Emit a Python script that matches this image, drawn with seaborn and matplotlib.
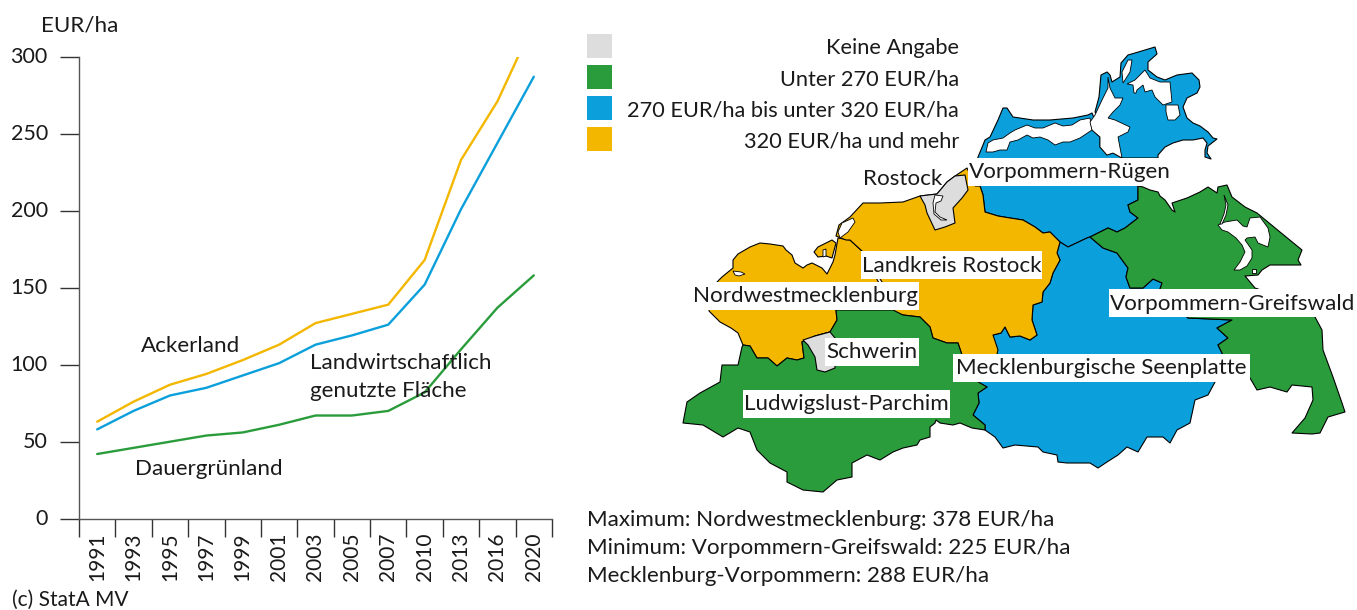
import pandas as pd
import matplotlib
matplotlib.use("Agg")
import matplotlib.pyplot as plt
from matplotlib.patches import Polygon, Rectangle
import seaborn as sns

years = ["1991", "1993", "1995", "1997", "1999", "2001", "2003", "2005", "2007", "2010", "2013", "2016", "2020"]
ackerland = [63, 76, 87, 94, 103, 113, 127, 133, 139, 168, 233, 271, 322]
lf_flaeche = [58, 70, 80, 85, 93, 101, 113, 119, 126, 152, 201, 244, 287]
dauergruen = [42, 46, 50, 54, 56, 61, 67, 67, 70, 82, 110, 137, 158]
y_ticks = [0, 50, 100, 150, 200, 250, 300]

GREY = "#DDDDDD"
GREEN = "#2A9C3B"
BLUE = "#0BA0DB"
ORANGE = "#F3B700"
TEXT = "#1a1a1a"

legend_labels = ["Keine Angabe", "Unter 270 EUR/ha", "270 EUR/ha bis unter 320 EUR/ha", "320 EUR/ha und mehr"]
legend_colors = [GREY, GREEN, BLUE, ORANGE]

# district outlines (image pixels)
nordwest = [(836, 310), (880, 285), (862, 251), (850, 240), (838, 238), (835, 255), (833, 262), (827, 274), (822, 268),
            (812, 263), (807, 265), (803, 268), (795, 263), (792, 255), (786, 250), (783, 246), (770, 244), (760, 243),
            (750, 247), (738, 254), (733, 260), (733, 268), (722, 277), (717, 282), (710, 295), (709, 311), (720, 322),
            (731, 328), (738, 333), (743, 345), (750, 346), (757, 358), (768, 358), (777, 366), (787, 358), (797, 360),
            (804, 358), (803, 350), (802, 342), (815, 336), (830, 332), (837, 320)]
poel = [(814, 252), (818, 247), (832, 240), (836, 243), (832, 258), (826, 256), (818, 257)]
lk_rostock = [(967, 168), (955, 176), (947, 182), (937, 194), (920, 196), (903, 202), (880, 203), (863, 203), (850, 217),
              (839, 225), (836, 236), (846, 240), (850, 240), (862, 251), (882, 282), (890, 312), (903, 315), (920, 317),
              (930, 327), (933, 338), (947, 343), (958, 343), (962, 355), (996, 358), (998, 350), (993, 335), (1001, 333),
              (1005, 327), (1010, 337), (1020, 336), (1030, 340), (1037, 335), (1032, 320), (1033, 305), (1042, 302),
              (1043, 292), (1050, 283), (1053, 273), (1060, 260), (1057, 253), (1060, 242), (1050, 232), (1043, 233),
              (1035, 227), (1023, 220), (1010, 218), (998, 216), (985, 212), (983, 195), (980, 186), (975, 186)]
hro = [(955, 176), (947, 182), (937, 194), (920, 196), (925, 205), (927, 213), (935, 230), (945, 227), (955, 223),
       (953, 208), (962, 198), (968, 190), (965, 175)]
ludwigslust = [(836, 310), (893, 310), (903, 315), (920, 317), (930, 327), (933, 338), (947, 343), (958, 343), (962, 355),
               (975, 380), (987, 387), (978, 393), (979, 403), (973, 415), (985, 425), (985, 430), (972, 428), (960, 423),
               (953, 425), (940, 423), (936, 420), (935, 423), (930, 427), (930, 437), (920, 440), (917, 445), (903, 448),
               (893, 452), (880, 460), (867, 455), (852, 463), (852, 477), (837, 480), (823, 492), (803, 490), (787, 482),
               (787, 472), (770, 463), (757, 450), (750, 432), (738, 428), (723, 437), (703, 425), (683, 423), (687, 402),
               (700, 393), (720, 382), (722, 365), (738, 365), (742, 347), (743, 345), (750, 346), (757, 358), (768, 358),
               (777, 366), (787, 358), (797, 360), (804, 358), (803, 350), (802, 342), (815, 336), (830, 332), (837, 320)]
schwerin = [(803, 340), (815, 336), (830, 332), (835, 338), (835, 368), (825, 372), (817, 370), (815, 357), (808, 345)]
seenplatte = [(1060, 242), (1068, 247), (1087, 238), (1090, 237), (1103, 248), (1117, 253), (1128, 268), (1126, 277),
              (1130, 288), (1143, 288), (1153, 279), (1162, 283), (1160, 289), (1188, 318), (1232, 320), (1217, 328),
              (1228, 338), (1218, 345), (1222, 353), (1225, 365), (1215, 382), (1208, 395), (1195, 400), (1190, 423),
              (1177, 430), (1170, 443), (1163, 437), (1147, 437), (1138, 452), (1127, 447), (1118, 455), (1107, 462),
              (1098, 468), (1090, 463), (1067, 463), (1058, 462), (1057, 455), (1043, 452), (1038, 447), (1015, 445),
              (1003, 448), (995, 437), (985, 430), (985, 425), (973, 415), (979, 403), (978, 393), (987, 387), (977, 382),
              (996, 358), (993, 335), (1001, 333), (1005, 327), (1010, 337), (1020, 336), (1030, 340), (1037, 335),
              (1032, 320), (1033, 305), (1042, 302), (1043, 292), (1050, 283), (1053, 273), (1060, 260), (1057, 253)]
greifswald = [(1090, 237), (1100, 232), (1108, 228), (1117, 232), (1125, 228), (1138, 218), (1130, 212), (1128, 205),
              (1138, 200), (1138, 186), (1143, 187), (1150, 190), (1158, 192), (1160, 196), (1165, 200), (1172, 210),
              (1175, 212), (1172, 203), (1187, 198), (1200, 192), (1208, 187), (1217, 193), (1218, 187), (1227, 185),
              (1232, 197), (1245, 207), (1257, 213), (1280, 232), (1302, 250), (1298, 260), (1301, 265), (1270, 265),
              (1262, 270), (1258, 275), (1245, 276), (1255, 288), (1290, 300), (1315, 317), (1322, 330), (1323, 350),
              (1333, 377), (1342, 403), (1345, 412), (1328, 417), (1320, 433), (1312, 434), (1292, 433), (1305, 418),
              (1313, 400), (1312, 387), (1292, 385), (1287, 392), (1270, 387), (1257, 390), (1250, 378), (1225, 365),
              (1222, 353), (1218, 345), (1228, 338), (1217, 328), (1232, 320), (1188, 318), (1160, 289), (1162, 283),
              (1153, 279), (1143, 288), (1130, 288), (1126, 277), (1128, 268), (1117, 253), (1103, 248)]
vr_mainland = [(980, 186), (977, 165), (978, 157), (983, 145), (985, 140), (990, 137), (998, 120), (1003, 108), (1007, 108),
               (1013, 117), (1033, 120), (1050, 120), (1073, 118), (1088, 115), (1092, 113), (1095, 120), (1092, 130),
               (1100, 137), (1100, 147), (1107, 155), (1113, 153), (1122, 158), (1125, 170), (1138, 186), (1138, 200),
               (1128, 205), (1130, 212), (1138, 218), (1125, 228), (1117, 232), (1108, 228), (1100, 232), (1090, 237),
               (1087, 238), (1068, 247), (1060, 242), (1050, 232), (1043, 233), (1035, 227), (1023, 220), (1010, 218),
               (998, 216), (985, 212), (983, 195)]
ruegen = [(1095, 112), (1099, 97), (1101, 75), (1107, 72), (1110, 75), (1112, 82), (1120, 77), (1121, 63), (1128, 55),
          (1135, 53), (1155, 47), (1157, 54), (1148, 62), (1148, 70), (1157, 77), (1165, 80), (1177, 75), (1192, 73),
          (1199, 80), (1200, 87), (1197, 93), (1187, 98), (1183, 107), (1187, 118), (1193, 123), (1200, 126), (1208, 132),
          (1213, 138), (1217, 139), (1208, 146), (1207, 153), (1211, 159), (1205, 157), (1205, 150), (1207, 143),
          (1203, 138), (1193, 140), (1183, 140), (1173, 143), (1165, 147), (1158, 155), (1158, 158), (1122, 158)]

districts = [(vr_mainland, BLUE), (ruegen, BLUE), (seenplatte, BLUE), (nordwest, ORANGE), (poel, ORANGE),
             (lk_rostock, ORANGE), (hro, GREY), (ludwigslust, GREEN), (schwerin, GREY), (greifswald, GREEN)]

# water inside the districts
boddenkette = [(986, 152), (988, 143), (993, 140), (1003, 138), (1010, 133), (1015, 130), (1027, 125), (1035, 128),
               (1043, 128), (1055, 123), (1063, 126), (1072, 125), (1080, 120), (1090, 118), (1092, 130), (1080, 138),
               (1070, 142), (1063, 142), (1055, 145), (1048, 140), (1040, 137), (1033, 138), (1027, 135), (1018, 140),
               (1010, 142), (1007, 150), (1000, 150), (993, 152)]
ruegen_bodden = [(1108, 77), (1108, 88), (1102, 100), (1095, 115), (1090, 122), (1092, 130), (1100, 137), (1100, 147),
                 (1107, 155), (1113, 153), (1122, 158), (1118, 137), (1128, 132), (1130, 127), (1115, 120), (1108, 118),
                 (1113, 112), (1120, 105), (1123, 98), (1115, 98), (1110, 88)]
jasmund = [(1127, 84), (1135, 80), (1145, 70), (1150, 78), (1160, 82), (1170, 82), (1172, 102), (1163, 105), (1155, 97),
           (1152, 90), (1145, 92), (1143, 85), (1137, 90), (1136, 93), (1134, 93), (1133, 85)]
schmale_heide = [(1166, 105), (1178, 105), (1180, 115), (1175, 120), (1168, 120), (1166, 112)]
wieker = [(1122, 72), (1128, 60), (1132, 60), (1130, 72), (1125, 80), (1123, 83)]
achterwasser = [(1218, 225), (1225, 222), (1237, 220), (1243, 226), (1247, 227), (1250, 218), (1260, 217), (1268, 228),
                (1270, 237), (1268, 247), (1258, 243), (1255, 237), (1247, 238), (1245, 240), (1252, 250), (1252, 258),
                (1247, 266), (1240, 270), (1234, 270), (1240, 262), (1245, 252), (1242, 245), (1236, 238), (1228, 232),
                (1222, 230)]
peene = [(1224, 195), (1228, 205), (1226, 215), (1222, 224), (1220, 224), (1224, 214), (1226, 205)]
usedom_see = [(1252, 269), (1256, 269), (1256, 273), (1252, 273)]
salzhaff = [(838, 232), (842, 223), (853, 218), (855, 222), (848, 232), (840, 238)]
poel_slit = [(823, 250), (826, 249), (826, 256), (823, 257)]
nwm_see = [(733, 271), (741, 272), (745, 274), (739, 276), (735, 275)]
warnow = [(935, 195), (943, 196), (941, 201), (936, 203), (935, 212), (940, 217), (947, 220), (941, 220), (934, 214), (933, 203)]
waters = [boddenkette, ruegen_bodden, jasmund, schmale_heide, wieker, achterwasser, peene, usedom_see, salzhaff,
          poel_slit, nwm_see, warnow]

district_labels = ["Vorpommern-Rügen", "Landkreis Rostock", "Nordwestmecklenburg", "Schwerin", "Ludwigslust-Parchim",
                   "Mecklenburgische Seenplatte", "Vorpommern-Greifswald"]
label_boxes = [(968, 158, 1172, 186), (861, 251, 1042, 279), (692, 282, 919, 310), (825, 338, 919, 366),
               (743, 390, 950, 418), (953, 354, 1250, 382), (1109, 289, 1357, 317)]

summary_lines = ["Maximum: Nordwestmecklenburg: 378 EUR/ha", "Minimum: Vorpommern-Greifswald: 225 EUR/ha",
                 "Mecklenburg-Vorpommern: 288 EUR/ha"]

sns.set_theme(style="white")
plt.rcParams["font.family"] = ["Lato", "DejaVu Sans"]
plt.rcParams["text.color"] = TEXT
FS = 16.1

W, H = 1357, 610
fig = plt.figure(figsize=(W / 100, H / 100), dpi=100, facecolor="white")

# line chart
ax = fig.add_axes([79 / W, 1 - 518.7 / H, (552 - 79) / W, (518.7 - 56.7) / H])
df = pd.DataFrame({
    "year": years * 3,
    "value": ackerland + lf_flaeche + dauergruen,
    "series": ["Ackerland"] * 13 + ["LF"] * 13 + ["Dauergrünland"] * 13,
})
sns.lineplot(data=df, x="year", y="value", hue="series", sort=False, ax=ax, legend=False, linewidth=1.7,
             palette={"Ackerland": ORANGE, "LF": BLUE, "Dauergrünland": GREEN})
ax.set_xlim(-0.5, 12.5)
ax.set_ylim(0, 300)
ax.set_xlabel("")
ax.set_ylabel("")
ax.patch.set_alpha(0)
for s in ["top", "right"]:
    ax.spines[s].set_visible(False)
for s in ["left", "bottom"]:
    ax.spines[s].set_color("#555555")
    ax.spines[s].set_linewidth(1.0)
ax.set_yticks(y_ticks)
ax.set_xticks(range(len(years)))
ax.set_xticklabels(years, rotation=90, fontsize=15, color=TEXT)
ax.set_xticks([i - 0.5 for i in range(len(years) + 1)], minor=True)
ax.tick_params(axis="x", which="major", length=0, pad=10, bottom=True)
ax.tick_params(axis="x", which="minor", length=13, width=1.0, color="#333333", bottom=True)
ax.tick_params(axis="y", length=13.5, width=1.0, color="#333333", left=True, labelsize=15.5, labelcolor=TEXT, pad=9)
for tick in ax.get_yticklabels():
    tick.set_va("center")

# map and free text on a full figure layer in image pixels
mp = fig.add_axes([0, 0, 1, 1])
mp.set_xlim(0, W)
mp.set_ylim(H, 0)
mp.axis("off")
mp.patch.set_alpha(0)

for outline, colour in districts:
    mp.add_patch(Polygon(outline, closed=True, facecolor=colour, edgecolor="black", linewidth=0.8, joinstyle="round"))
for outline in waters:
    mp.add_patch(Polygon(outline, closed=True, facecolor="white", edgecolor="black", linewidth=0.6))

for name, (x0, y0, x1, y1) in zip(district_labels, label_boxes):
    mp.add_patch(Rectangle((x0, y0), x1 - x0, y1 - y0, facecolor="white", edgecolor="none"))
    mp.text((x0 + x1) / 2, (y0 + y1) / 2 + 0.5, name, ha="center", va="center", fontsize=FS)

mp.text(863, 179, "Rostock", ha="left", va="center", fontsize=FS)

for i, (label, colour) in enumerate(zip(legend_labels, legend_colors)):
    top = 34 + i * 31
    mp.add_patch(Rectangle((587, top), 25, 24, facecolor=colour, edgecolor="none"))
    mp.text(959, top + 14.5, label, ha="right", va="center", fontsize=15.7)

for i, line in enumerate(summary_lines):
    mp.text(587, 520.5 + i * 27.5, line, ha="left", va="center", fontsize=FS)

mp.text(41, 26, "EUR/ha", ha="left", va="center", fontsize=FS)
mp.text(141, 346, "Ackerland", ha="left", va="center", fontsize=FS)
mp.text(310, 363, "Landwirtschaftlich", ha="left", va="center", fontsize=FS)
mp.text(310, 391, "genutzte Fläche", ha="left", va="center", fontsize=FS)
mp.text(135, 469, "Dauergrünland", ha="left", va="center", fontsize=FS)
mp.text(12, 600, "(c) StatA MV", ha="left", va="center", fontsize=15)

fig.savefig("out.png", dpi=100, facecolor="white")
plt.close(fig)
